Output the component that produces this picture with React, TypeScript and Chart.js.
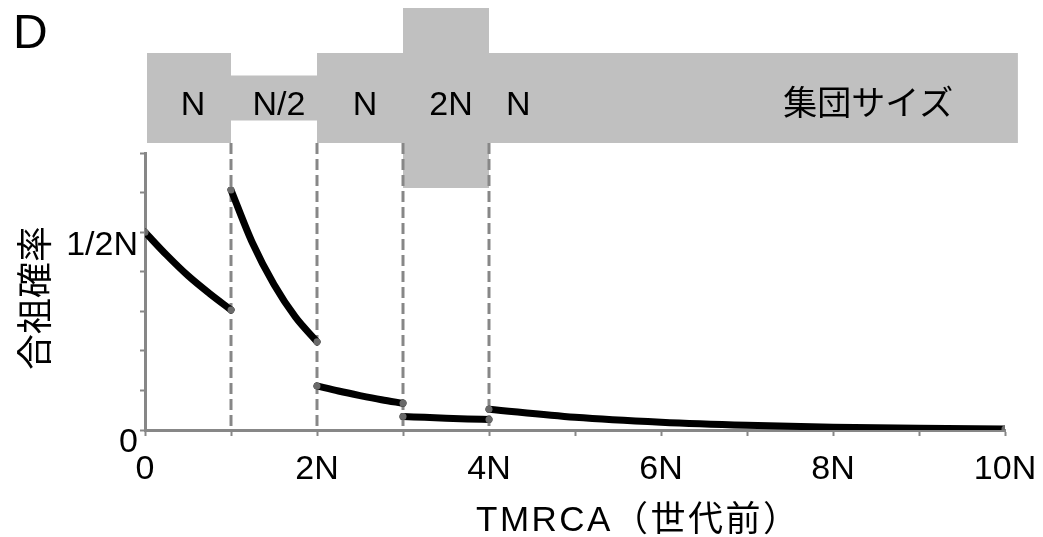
import React, { useEffect, useRef } from "react";
import { Chart, registerables } from "chart.js";

Chart.register(...registerables);

// Segment boundaries (in units of N generations) and population sizes (relative to N)
const segStarts = [0, 1, 2, 3, 4];
const segEnds = [1, 2, 3, 4, 10.15];
const popSizes = [1, 0.5, 1, 2, 1];
const popLabels = ["N", "N/2", "N", "2N", "N"];
const popTitle = "集団サイズ";
const boundaryXs = [1, 2, 3, 4];

// Coalescence probability curves (unit: 1/2N)
const seg1X = [0, 0.25, 0.5, 0.75, 1];
const seg1Y = [1.0, 0.885, 0.78, 0.69, 0.607];
const seg2X = [1, 1.25, 1.5, 1.75, 2];
const seg2Y = [1.213, 0.945, 0.735, 0.57, 0.446];
const seg3X = [2, 2.25, 2.5, 2.75, 3];
const seg3Y = [0.223, 0.197, 0.174, 0.153, 0.135];
const seg4X = [3, 3.25, 3.5, 3.75, 4];
const seg4Y = [0.068, 0.064, 0.06, 0.056, 0.053];
const seg5X = [4, 5, 6, 7, 8, 9, 10];
const seg5Y = [0.105, 0.064, 0.039, 0.0235, 0.0143, 0.0087, 0.0053];

const xTickLabels: Record<number, string> = { 0: "0", 2: "2N", 4: "4N", 6: "6N", 8: "8N", 10: "10N" };
const yTickLabels: Record<string, string> = { "0": "0", "1": "1/2N" };

const panelLabel = "D";
const xTitle = "TMRCA（世代前）";
const yTitle = "合祖確率";

const FONT = "'Liberation Sans', 'Noto Sans CJK JP', sans-serif";
const GRAY = "#878787";
const BAND = "#c0c0c0";

const segments = [
  [seg1X, seg1Y],
  [seg2X, seg2Y],
  [seg3X, seg3Y],
  [seg4X, seg4Y],
  [seg5X, seg5Y],
];

const decorPlugin = {
  id: "decor",
  beforeDatasetsDraw(chart: any) {
    const { ctx, scales, chartArea } = chart;
    const xs = scales.x;
    const top = chartArea.top;
    const bandCenter = top - 55;
    const baseH = 90;
    ctx.save();
    // population size band
    ctx.fillStyle = BAND;
    for (let i = 0; i < segStarts.length; i++) {
      const x0 = i === 0 ? xs.getPixelForValue(segStarts[i]) + 2 : xs.getPixelForValue(segStarts[i]);
      const x1 = xs.getPixelForValue(segEnds[i]);
      const h = baseH * popSizes[i];
      ctx.fillRect(x0, bandCenter - h / 2, x1 - x0, h);
    }
    // band labels
    ctx.fillStyle = "#000";
    ctx.font = `34px ${FONT}`;
    ctx.textAlign = "center";
    ctx.textBaseline = "middle";
    const textY = bandCenter + 8;
    for (let i = 0; i < popLabels.length; i++) {
      let cx;
      if (i < 4) cx = (xs.getPixelForValue(segStarts[i]) + xs.getPixelForValue(segEnds[i])) / 2 + 5;
      else cx = xs.getPixelForValue(segStarts[i] + 0.34);
      ctx.fillText(popLabels[i], cx, textY);
    }
    ctx.fillText(popTitle, xs.getPixelForValue(8.41), textY);
    // dashed boundaries
    ctx.strokeStyle = GRAY;
    ctx.lineWidth = 3;
    ctx.setLineDash([11, 5]);
    const yTopDash = bandCenter + baseH / 2;
    for (const b of boundaryXs) {
      const px = xs.getPixelForValue(b);
      ctx.beginPath();
      ctx.moveTo(px, yTopDash);
      ctx.lineTo(px, chartArea.bottom);
      ctx.stroke();
    }
    ctx.restore();
  },
  afterDraw(chart: any) {
    const { ctx } = chart;
    ctx.save();
    ctx.fillStyle = "#000";
    ctx.font = `48px ${FONT}`;
    ctx.textAlign = "left";
    ctx.textBaseline = "alphabetic";
    ctx.fillText(panelLabel, 13, 48);
    ctx.font = `35px ${FONT}`;
    ctx.textBaseline = "middle";
    (ctx as any).letterSpacing = "2.5px";
    ctx.fillText(xTitle, 476, 521);
    (ctx as any).letterSpacing = "0px";
    ctx.translate(38, 298);
    ctx.rotate(-Math.PI / 2);
    ctx.textAlign = "center";
    ctx.font = `36px ${FONT}`;
    ctx.fillText(yTitle, 0, 0);
    ctx.restore();
  },
};

export default function App() {
  const ref = useRef<HTMLCanvasElement>(null);
  useEffect(() => {
    if (!ref.current) return;
    const datasets = segments.map(([xv, yv]) => ({
      data: xv.map((x, i) => ({ x, y: yv[i] })),
      borderColor: "#000",
      borderWidth: 7,
      cubicInterpolationMode: "monotone" as const,
      pointRadius: (c: any) => (c.dataIndex === 0 || c.dataIndex === xv.length - 1 ? 3.5 : 0),
      pointBackgroundColor: "#6a6a6a",
      pointBorderWidth: 0,
      borderCapStyle: "round" as const,
      fill: false,
    }));
    const chart = new Chart(ref.current, {
      type: "line",
      data: { datasets },
      plugins: [decorPlugin],
      options: {
        animation: false,
        responsive: false,
        maintainAspectRatio: false,
        layout: { padding: { top: 153, right: 38, bottom: 0, left: 0 } },
        plugins: { legend: { display: false }, tooltip: { enabled: false } },
        scales: {
          x: {
            type: "linear",
            min: 0,
            max: 10,
            afterFit: (s: any) => {
              s.height = 107;
              s.paddingLeft = 0;
              s.paddingRight = 0;
            },
            border: { color: GRAY, width: 3 },
            grid: { drawOnChartArea: false, drawTicks: true, tickLength: 6, tickColor: GRAY, tickWidth: 2 },
            ticks: {
              stepSize: 1,
              autoSkip: false,
              maxRotation: 0,
              padding: 13,
              color: "#000",
              font: { family: FONT, size: 34 },
              callback: (v: any) => xTickLabels[Math.round(Number(v))] ?? "",
            },
          },
          y: {
            type: "linear",
            min: 0,
            max: 1.4,
            afterFit: (s: any) => {
              s.width = 145;
              s.paddingTop = 0;
              s.paddingBottom = 0;
            },
            border: { color: GRAY, width: 3 },
            grid: { drawOnChartArea: false, drawTicks: true, tickLength: 5, tickColor: GRAY, tickWidth: 2 },
            ticks: {
              stepSize: 0.2,
              autoSkip: false,
              padding: 2,
              labelOffset: 13,
              color: "#000",
              font: { family: FONT, size: 34 },
              callback: (v: any) => {
                const n = Number(v);
                if (Math.abs(n) < 1e-6) return yTickLabels["0"];
                if (Math.abs(n - 1) < 1e-6) return yTickLabels["1"];
                return "";
              },
            },
          },
        },
      },
    });
    return () => chart.destroy();
  }, []);
  return (
    <div style={{ position: "absolute", left: 0, top: 0, width: 1043, height: 537, background: "#fff" }}>
      <canvas ref={ref} width={1043} height={537} style={{ display: "block" }} />
    </div>
  );
}
